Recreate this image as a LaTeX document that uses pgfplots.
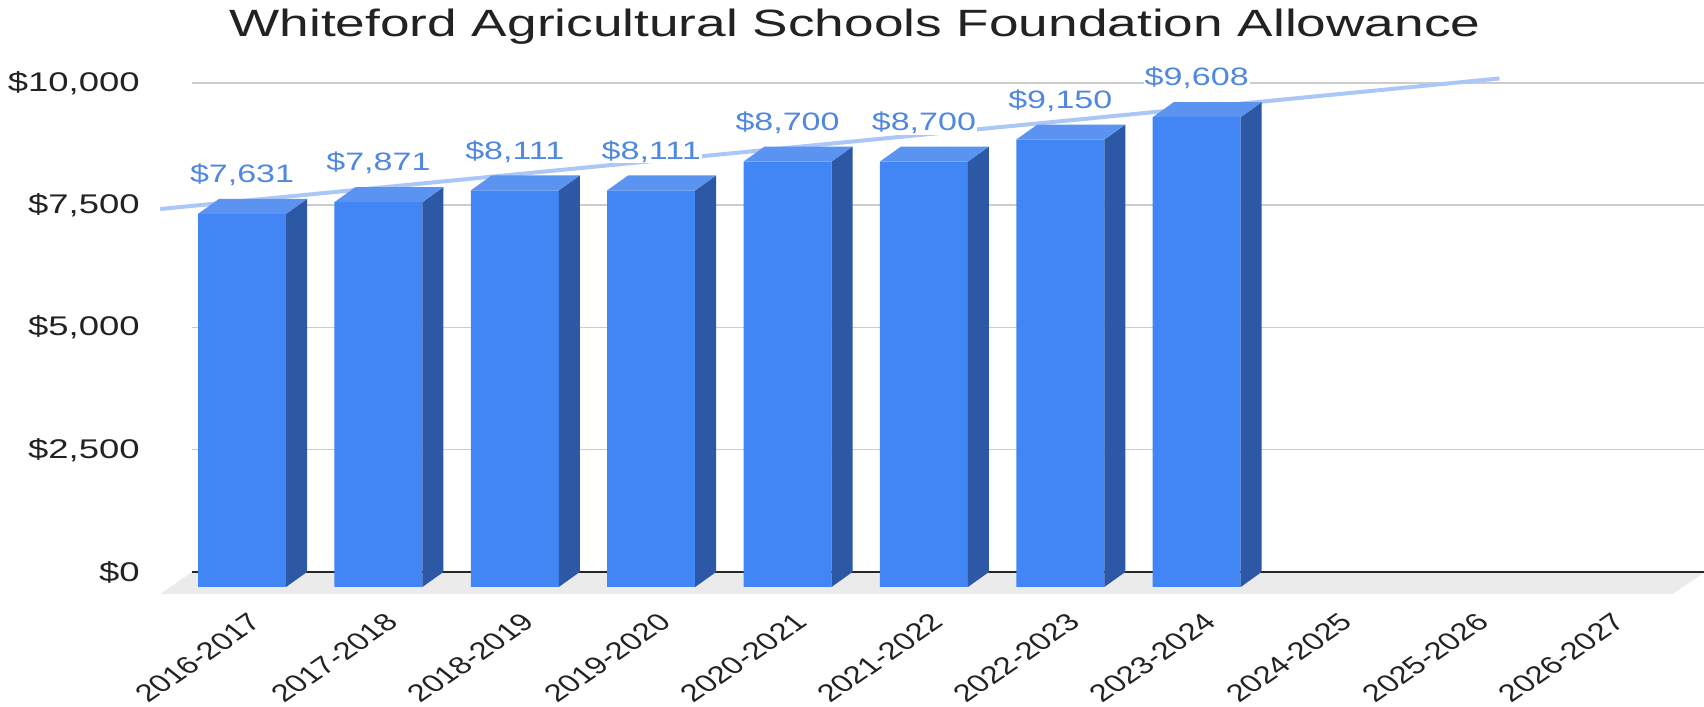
\documentclass[border=0pt]{standalone}
\usepackage{fontspec}
\setmainfont{Liberation Sans}[FakeStretch=1.35]
\newfontfamily\titlefont{Liberation Sans}[FakeStretch=1.4]
\newfontfamily\xfont{Liberation Sans}
\usepackage{pgfplots}
\usepackage{pgfplotstable}
\pgfplotsset{compat=1.18}

\definecolor{barfront}{HTML}{4285F4}
\definecolor{barside}{HTML}{2C58A5}
\definecolor{bartop}{HTML}{5B93F0}
\definecolor{labelblue}{HTML}{5088E0}
\definecolor{trend}{HTML}{AAC7F7}
\definecolor{gridgray}{HTML}{CCCCCC}
\definecolor{floorgray}{HTML}{EBEBEB}
\definecolor{textcol}{HTML}{222222}

% allowance per year (front plane: bar base at y=0, back plane is +307 up, +0.154 right)
\pgfplotstableread{
k v
0 7631
1 7871
2 8111
3 8111
4 8700
5 8700
6 9150
7 9608
}\allowance

\begin{document}
\begin{tikzpicture}
\begin{axis}[
  at={(96pt,60pt)}, anchor=south west,
  scale only axis,
  width=756pt, height=252pt,
  xmin=-0.367, xmax=10.72,
  ymin=0, ymax=10307,
  clip=false,
  scaled y ticks=false,
  axis line style={draw=none},
  major tick length=0pt,
  tick style={draw=none},
  ymajorgrids,
  grid style={draw=gridgray, line width=0.75pt},
  ytick={307,2807,5307,7807,10307},
  yticklabels={{\$0},{\$2,500},{\$5,000},{\$7,500},{\$10,000}},
  yticklabel style={anchor=east, inner sep=0pt, xshift=-26pt,
    font=\fontsize{13.5}{16}\selectfont, text=textcol},
  xtick={0,...,10},
  xticklabels={2016-2017,2017-2018,2018-2019,2019-2020,2020-2021,2021-2022,
    2022-2023,2023-2024,2024-2025,2025-2026,2026-2027},
  % rotated, then stretched sideways like the rest of the picture
  xticklabel style={xshift=7pt, yshift=-15.5pt, cm={0.987,0.682,-0.921,0.731,(0,0)},
    anchor=east, inner sep=0pt, font=\xfont\fontsize{12.2}{14}\selectfont, text=textcol},
  /pgf/number format/1000 sep={,},
]
% floor
\addplot[fill=floorgray, draw=none] coordinates {
  (-0.60,-143) (10.49,-143) (10.73,307) (-0.367,307)} -- cycle;
% zero line
\addplot[draw=black!85, line width=1pt] coordinates {(-0.367,307) (10.72,307)};
% trend line
\addplot[draw=trend, line width=2pt] coordinates {(-0.60,7730) (9.22,10400)};
% data labels
\addplot[draw=none, point meta=y,
  nodes near coords={\$\pgfmathprintnumber[assume math mode=true]{\pgfplotspointmeta}},
  every node near coord/.style={anchor=center, yshift=19.5pt, fill=white,
    inner sep=0.5pt, text=labelblue, font=\fontsize{12.6}{15}\selectfont}]
  table[x=k, y=v] {\allowance};
% front faces
\addplot[ybar, bar width=0.645, fill=barfront, draw=none] table[x=k, y=v] {\allowance};
% side faces
\addplot[fill=barside, draw=none] coordinates {(0.3226,0) (0.4766,307) (0.4766,7938) (0.3226,7631)} -- cycle;
\addplot[fill=barside, draw=none] coordinates {(1.3226,0) (1.4766,307) (1.4766,8178) (1.3226,7871)} -- cycle;
\addplot[fill=barside, draw=none] coordinates {(2.3226,0) (2.4766,307) (2.4766,8418) (2.3226,8111)} -- cycle;
\addplot[fill=barside, draw=none] coordinates {(3.3226,0) (3.4766,307) (3.4766,8418) (3.3226,8111)} -- cycle;
\addplot[fill=barside, draw=none] coordinates {(4.3226,0) (4.4766,307) (4.4766,9007) (4.3226,8700)} -- cycle;
\addplot[fill=barside, draw=none] coordinates {(5.3226,0) (5.4766,307) (5.4766,9007) (5.3226,8700)} -- cycle;
\addplot[fill=barside, draw=none] coordinates {(6.3226,0) (6.4766,307) (6.4766,9457) (6.3226,9150)} -- cycle;
\addplot[fill=barside, draw=none] coordinates {(7.3226,0) (7.4766,307) (7.4766,9915) (7.3226,9608)} -- cycle;
% top faces
\addplot[fill=bartop, draw=none] coordinates {(-0.3226,7631) (0.3226,7631) (0.4766,7938) (-0.1686,7938)} -- cycle;
\addplot[fill=bartop, draw=none] coordinates {(0.6774,7871) (1.3226,7871) (1.4766,8178) (0.8314,8178)} -- cycle;
\addplot[fill=bartop, draw=none] coordinates {(1.6774,8111) (2.3226,8111) (2.4766,8418) (1.8314,8418)} -- cycle;
\addplot[fill=bartop, draw=none] coordinates {(2.6774,8111) (3.3226,8111) (3.4766,8418) (2.8314,8418)} -- cycle;
\addplot[fill=bartop, draw=none] coordinates {(3.6774,8700) (4.3226,8700) (4.4766,9007) (3.8314,9007)} -- cycle;
\addplot[fill=bartop, draw=none] coordinates {(4.6774,8700) (5.3226,8700) (5.4766,9007) (4.8314,9007)} -- cycle;
\addplot[fill=bartop, draw=none] coordinates {(5.6774,9150) (6.3226,9150) (6.4766,9457) (5.8314,9457)} -- cycle;
\addplot[fill=bartop, draw=none] coordinates {(6.6774,9608) (7.3226,9608) (7.4766,9915) (6.8314,9915)} -- cycle;
\end{axis}
\node[anchor=base, text=textcol, font=\titlefont\fontsize{19}{22}\selectfont]
  at (427.5pt,335pt) {Whiteford Agricultural Schools Foundation Allowance};
\pgfresetboundingbox
\path[use as bounding box] (0,0) rectangle (852pt,353.5pt);
\end{tikzpicture}
\end{document}
